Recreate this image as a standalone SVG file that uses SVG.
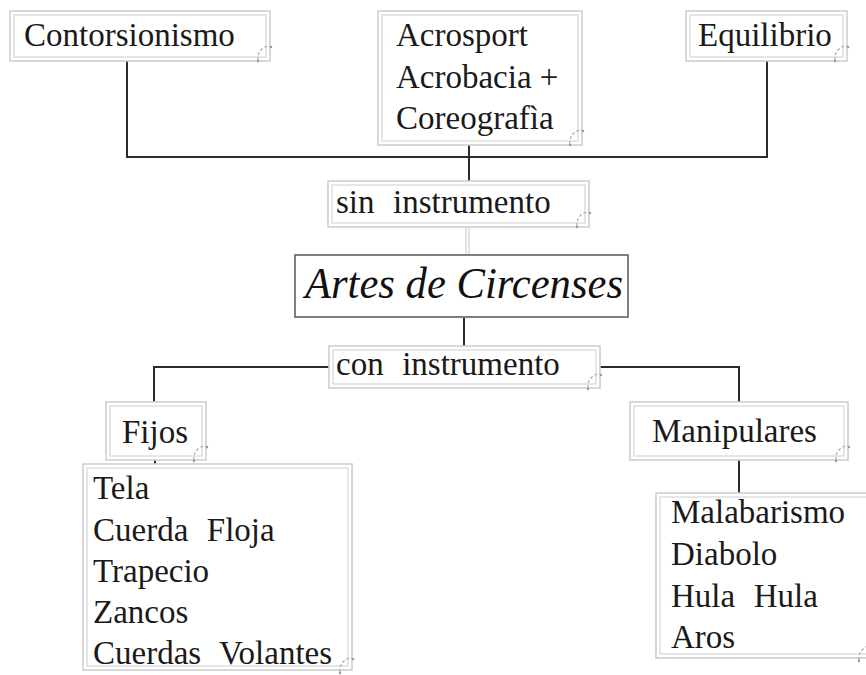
<svg xmlns="http://www.w3.org/2000/svg" width="866" height="675" viewBox="0 0 866 675">
<style>
.o{fill:#fff;stroke:#cfcfcf;stroke-width:1.6}
.i{fill:none;stroke:#d6d6d6;stroke-width:1.2}
.t{font-family:"Liberation Serif","Times New Roman",serif;font-size:33px;fill:#1a1a1a;white-space:pre}
.w{word-spacing:1px}
.c{fill:none;stroke:#2b2b2b;stroke-width:2}
.h{fill:none;stroke:#a8a8a8;stroke-width:1.2;stroke-dasharray:3 2}
</style>
<defs>
<g id="handle">
<path d="M-12,8 A12,12 0 0 1 0,-6" class="h"/>
<circle cx="1" cy="-5" r="1.2" fill="#999"/>
<circle cx="-12" cy="9" r="1.2" fill="#999"/>
</g>
</defs>
<rect width="866" height="675" fill="#fff"/>
<g id="connectors">
<polyline class="c" points="127,61 127,157 767,157 767,61"/>
<line class="c" x1="469" y1="145" x2="469" y2="181"/>
<line x1="466" y1="227" x2="466" y2="255" stroke="#c8c8c8" stroke-width="1"/>
<line x1="469" y1="227" x2="469" y2="255" stroke="#c8c8c8" stroke-width="1"/>
<line class="c" x1="464" y1="318" x2="464" y2="346"/>
<polyline class="c" points="329,367 154,367 154,403"/>
<polyline class="c" points="595,367 739,367 739,402"/>
<line class="c" x1="155" y1="460" x2="155" y2="467" stroke-width="1.5"/>
<line class="c" x1="739" y1="460" x2="739" y2="497" stroke-width="1.5"/>
</g>
<g id="contorsionismo">
<rect class="o" x="10" y="11" width="260" height="50"/>
<rect class="i" x="14" y="15" width="252" height="42"/>
<text class="t" x="24" y="46">Contorsionismo</text>
<use href="#handle" x="270" y="52"/>
</g>
<g id="acrosport">
<rect class="o" x="378" y="11" width="204" height="134"/>
<rect class="i" x="382" y="15" width="196" height="126"/>
<text class="t" x="396" y="46">Acrosport</text>
<text class="t" x="396" y="88">Acrobacia +</text>
<text class="t" x="396" y="129">Coreografìa</text>
<use href="#handle" x="582" y="136"/>
</g>
<g id="equilibrio">
<rect class="o" x="686" y="11" width="161" height="50"/>
<rect class="i" x="690" y="15" width="153" height="42"/>
<text class="t" x="698" y="46">Equilibrio</text>
<use href="#handle" x="847" y="52"/>
</g>
<g id="sin-instrumento">
<rect class="o" x="328" y="181" width="261" height="46"/>
<rect class="i" x="332" y="185" width="253" height="38"/>
<text class="t w" x="336" y="213">sin  instrumento</text>
<use href="#handle" x="589" y="218"/>
</g>
<g id="artes-circenses">
<rect x="295" y="255" width="333" height="62" fill="#fff" stroke="#555" stroke-width="1.5"/>
<text x="464" y="298" text-anchor="middle" font-family="'Liberation Serif',serif" font-style="italic" font-size="44" fill="#111" textLength="318" lengthAdjust="spacingAndGlyphs">Artes de Circenses</text>
</g>
<g id="con-instrumento">
<rect class="o" x="329" y="346" width="271" height="42"/>
<rect class="i" x="333" y="350" width="263" height="34"/>
<text class="t w" x="336" y="375">con  instrumento</text>
<use href="#handle" x="600" y="380"/>
</g>
<g id="fijos">
<rect class="o" x="106" y="402" width="100" height="58"/>
<rect class="i" x="110" y="406" width="92" height="50"/>
<text class="t" x="122" y="443">Fijos</text>
<use href="#handle" x="206" y="452"/>
</g>
<g id="fijos-lista">
<rect class="o" x="83" y="464" width="269" height="206"/>
<rect class="i" x="87" y="468" width="261" height="198"/>
<text class="t" x="93" y="499">Tela</text>
<text class="t w" x="93" y="541">Cuerda  Floja</text>
<text class="t" x="93" y="582">Trapecio</text>
<text class="t" x="93" y="623">Zancos</text>
<text class="t w" x="93" y="664">Cuerdas  Volantes</text>
<use href="#handle" x="352" y="664"/>
</g>
<g id="manipulares">
<rect class="o" x="630" y="402" width="218" height="58"/>
<rect class="i" x="634" y="406" width="210" height="50"/>
<text class="t" x="652" y="442">Manipulares</text>
<use href="#handle" x="848" y="452"/>
</g>
<g id="manipulares-lista">
<rect class="o" x="656" y="493" width="215" height="165"/>
<rect class="i" x="660" y="497" width="210" height="157"/>
<text class="t" x="671" y="523">Malabarismo</text>
<text class="t" x="671" y="565">Diabolo</text>
<text class="t w" x="671" y="607">Hula  Hula</text>
<text class="t" x="671" y="648">Aros</text>
<use href="#handle" x="871" y="652"/>
</g>
</svg>
